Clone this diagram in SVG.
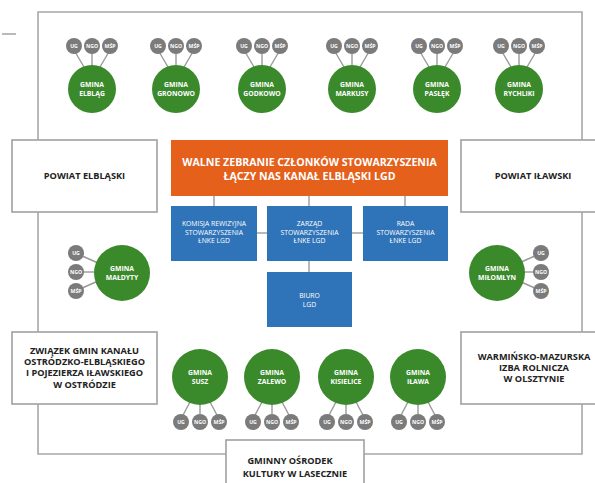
<svg xmlns="http://www.w3.org/2000/svg" width="595" height="483" viewBox="0 0 595 483">
<style>
.bg{fill:#ffffff}
.ln{stroke:#a8a8a8;stroke-width:1.6;fill:none}
.sl{stroke:#9a9a9a;stroke-width:1.4}
.box{fill:#ffffff;stroke:#a0a0a0;stroke-width:1.6}
.g{fill:#3a8a2c}
.s{fill:#7b7b7b}
.or{fill:#e4601b}
.bl{fill:#2f73b8}
.gt{font-family:"Open Sans","Liberation Sans",sans-serif;font-weight:700;font-size:6.8px;fill:#ffffff;text-anchor:middle}
.st{font-family:"Open Sans","Liberation Sans",sans-serif;font-weight:700;font-size:5.2px;fill:#ffffff;text-anchor:middle}
.bt{font-family:"Open Sans","Liberation Sans",sans-serif;font-weight:700;font-size:9.2px;fill:#222222;text-anchor:middle}
.ot{font-family:"Open Sans","Liberation Sans",sans-serif;font-weight:700;font-size:10.6px;fill:#ffffff;text-anchor:middle}
.wt{font-family:"Open Sans","Liberation Sans",sans-serif;font-weight:400;font-size:6.8px;fill:#ffffff;text-anchor:middle}
</style>
<rect class="bg" x="0" y="0" width="595" height="483"/>
<g id="connectors">
  <line class="ln" x1="2" y1="34" x2="16" y2="34"/>
  <path class="ln" d="M38,12 H582 V454 H38 Z"/>
  <line class="ln" x1="214" y1="196" x2="214" y2="206"/>
  <line class="ln" x1="309" y1="196" x2="309" y2="206"/>
  <line class="ln" x1="405" y1="196" x2="405" y2="206"/>
  <line class="ln" x1="257" y1="233" x2="267" y2="233"/>
  <line class="ln" x1="352" y1="233" x2="363" y2="233"/>
  <line class="ln" x1="309" y1="261" x2="309" y2="272"/>
  <g class="sl">
    <line x1="74" y1="50" x2="84" y2="67"/><line x1="92" y1="52" x2="92" y2="65"/><line x1="110" y1="50" x2="100" y2="67"/>
    <line x1="158" y1="50" x2="168" y2="67"/><line x1="176" y1="52" x2="176" y2="65"/><line x1="194" y1="50" x2="184" y2="67"/>
    <line x1="244" y1="50" x2="254" y2="67"/><line x1="262" y1="52" x2="262" y2="65"/><line x1="280" y1="50" x2="270" y2="67"/>
    <line x1="334" y1="50" x2="344" y2="67"/><line x1="352" y1="52" x2="352" y2="65"/><line x1="370" y1="50" x2="360" y2="67"/>
    <line x1="419" y1="50" x2="429" y2="67"/><line x1="437" y1="52" x2="437" y2="65"/><line x1="455" y1="50" x2="445" y2="67"/>
    <line x1="501" y1="50" x2="511" y2="67"/><line x1="519" y1="52" x2="519" y2="65"/><line x1="537" y1="50" x2="527" y2="67"/>
    <line x1="80" y1="255" x2="98" y2="263"/><line x1="83" y1="272" x2="94" y2="272"/><line x1="80" y1="289" x2="98" y2="281"/>
    <line x1="537" y1="255" x2="519" y2="263"/><line x1="534" y1="272" x2="523" y2="272"/><line x1="537" y1="289" x2="519" y2="281"/>
    <line x1="182" y1="417" x2="190" y2="402"/><line x1="200" y1="414" x2="200" y2="405"/><line x1="218" y1="417" x2="210" y2="402"/>
    <line x1="254" y1="417" x2="262" y2="402"/><line x1="272" y1="414" x2="272" y2="405"/><line x1="290" y1="417" x2="282" y2="402"/>
    <line x1="328" y1="417" x2="336" y2="402"/><line x1="346" y1="414" x2="346" y2="405"/><line x1="364" y1="417" x2="356" y2="402"/>
    <line x1="400" y1="417" x2="408" y2="402"/><line x1="418" y1="414" x2="418" y2="405"/><line x1="436" y1="417" x2="428" y2="402"/>
  </g>
</g>

<g id="powiat-elblaski"><rect class="box" x="12" y="140" width="145" height="72"/><text class="bt" x="84.5" y="179">POWIAT ELBLĄSKI</text></g>
<g id="powiat-ilawski"><rect class="box" x="461" y="140" width="140" height="72"/><text class="bt" x="533" y="179">POWIAT IŁAWSKI</text></g>
<g id="zwiazek"><rect class="box" x="12" y="332" width="145" height="72"/>
  <text class="bt" x="84.5" y="354">ZWIĄZEK GMIN KANAŁU</text>
  <text class="bt" x="84.5" y="365.2">OSTRÓDZKO-ELBLĄSKIEGO</text>
  <text class="bt" x="84.5" y="376.4">I POJEZIERZA IŁAWSKIEGO</text>
  <text class="bt" x="84.5" y="387.6">W OSTRÓDZIE</text></g>
<g id="izba"><rect class="box" x="461" y="332" width="140" height="72"/>
  <text class="bt" x="534" y="360">WARMIŃSKO-MAZURSKA</text>
  <text class="bt" x="534" y="371.2">IZBA ROLNICZA</text>
  <text class="bt" x="534" y="382.4">W OLSZTYNIE</text></g>
<g id="osrodek"><rect class="box" x="226" y="440" width="138" height="60"/>
  <text class="bt" x="290" y="464">GMINNY OŚRODEK</text>
  <text class="bt" x="295" y="477">KULTURY W LASECZNIE</text></g>

<g id="walne"><rect class="or" x="171" y="140" width="277" height="56"/>
  <text class="ot" x="309.5" y="166">WALNE ZEBRANIE CZŁONKÓW STOWARZYSZENIA</text>
  <text class="ot" x="309.5" y="180">ŁĄCZY NAS KANAŁ ELBLĄSKI LGD</text></g>
<g id="komisja"><rect class="bl" x="171" y="206" width="86" height="55"/>
  <text class="wt" x="214" y="226">KOMISJA REWIZYJNA</text><text class="wt" x="214" y="234.5">STOWARZYSZENIA</text><text class="wt" x="214" y="243">ŁNKE LGD</text></g>
<g id="zarzad"><rect class="bl" x="267" y="206" width="85" height="55"/>
  <text class="wt" x="309.5" y="226">ZARZĄD</text><text class="wt" x="309.5" y="234.5">STOWARZYSZENIA</text><text class="wt" x="309.5" y="243">ŁNKE LGD</text></g>
<g id="rada"><rect class="bl" x="363" y="206" width="85" height="55"/>
  <text class="wt" x="405.5" y="226">RADA</text><text class="wt" x="405.5" y="234.5">STOWARZYSZENIA</text><text class="wt" x="405.5" y="243">ŁNKE LGD</text></g>
<g id="biuro"><rect class="bl" x="267" y="272" width="85" height="55"/>
  <text class="wt" x="309.5" y="298">BIURO</text><text class="wt" x="309.5" y="307">LGD</text></g>

<g id="gmina-elblag"><circle class="g" cx="92" cy="89" r="24"/><text class="gt" x="92" y="87">GMINA</text><text class="gt" x="92" y="96">ELBLĄG</text>
  <circle class="s" cx="74" cy="46" r="8"/><text class="st" x="74" y="48">UG</text><circle class="s" cx="92" cy="46" r="8"/><text class="st" x="92" y="48">NGO</text><circle class="s" cx="110" cy="46" r="8"/><text class="st" x="110" y="48">MŚP</text></g>
<g id="gmina-gronowo"><circle class="g" cx="176" cy="89" r="24"/><text class="gt" x="176" y="87">GMINA</text><text class="gt" x="176" y="96">GRONOWO</text>
  <circle class="s" cx="158" cy="46" r="8"/><text class="st" x="158" y="48">UG</text><circle class="s" cx="176" cy="46" r="8"/><text class="st" x="176" y="48">NGO</text><circle class="s" cx="194" cy="46" r="8"/><text class="st" x="194" y="48">MŚP</text></g>
<g id="gmina-godkowo"><circle class="g" cx="262" cy="89" r="24"/><text class="gt" x="262" y="87">GMINA</text><text class="gt" x="262" y="96">GODKOWO</text>
  <circle class="s" cx="244" cy="46" r="8"/><text class="st" x="244" y="48">UG</text><circle class="s" cx="262" cy="46" r="8"/><text class="st" x="262" y="48">NGO</text><circle class="s" cx="280" cy="46" r="8"/><text class="st" x="280" y="48">MŚP</text></g>
<g id="gmina-markusy"><circle class="g" cx="352" cy="89" r="24"/><text class="gt" x="352" y="87">GMINA</text><text class="gt" x="352" y="96">MARKUSY</text>
  <circle class="s" cx="334" cy="46" r="8"/><text class="st" x="334" y="48">UG</text><circle class="s" cx="352" cy="46" r="8"/><text class="st" x="352" y="48">NGO</text><circle class="s" cx="370" cy="46" r="8"/><text class="st" x="370" y="48">MŚP</text></g>
<g id="gmina-paslek"><circle class="g" cx="437" cy="89" r="24"/><text class="gt" x="437" y="87">GMINA</text><text class="gt" x="437" y="96">PASŁĘK</text>
  <circle class="s" cx="419" cy="46" r="8"/><text class="st" x="419" y="48">UG</text><circle class="s" cx="437" cy="46" r="8"/><text class="st" x="437" y="48">NGO</text><circle class="s" cx="455" cy="46" r="8"/><text class="st" x="455" y="48">MŚP</text></g>
<g id="gmina-rychliki"><circle class="g" cx="519" cy="89" r="24"/><text class="gt" x="519" y="87">GMINA</text><text class="gt" x="519" y="96">RYCHLIKI</text>
  <circle class="s" cx="501" cy="46" r="8"/><text class="st" x="501" y="48">UG</text><circle class="s" cx="519" cy="46" r="8"/><text class="st" x="519" y="48">NGO</text><circle class="s" cx="537" cy="46" r="8"/><text class="st" x="537" y="48">MŚP</text></g>

<g id="gmina-maldyty"><circle class="g" cx="122" cy="273" r="28"/><text class="gt" x="122" y="271">GMINA</text><text class="gt" x="122" y="280">MAŁDYTY</text>
  <circle class="s" cx="76" cy="253" r="8"/><text class="st" x="76" y="255">UG</text><circle class="s" cx="76" cy="272" r="8"/><text class="st" x="76" y="274">NGO</text><circle class="s" cx="76" cy="291" r="8"/><text class="st" x="76" y="293">MŚP</text></g>
<g id="gmina-milomlyn"><circle class="g" cx="497" cy="273" r="28"/><text class="gt" x="497" y="271">GMINA</text><text class="gt" x="497" y="280">MIŁOMŁYN</text>
  <circle class="s" cx="541" cy="253" r="8"/><text class="st" x="541" y="255">UG</text><circle class="s" cx="541" cy="272" r="8"/><text class="st" x="541" y="274">NGO</text><circle class="s" cx="541" cy="291" r="8"/><text class="st" x="541" y="293">MŚP</text></g>

<g id="gmina-susz"><circle class="g" cx="200" cy="377" r="28"/><text class="gt" x="200" y="375">GMINA</text><text class="gt" x="200" y="384">SUSZ</text>
  <circle class="s" cx="181" cy="422" r="8"/><text class="st" x="181" y="424">UG</text><circle class="s" cx="200" cy="422" r="8"/><text class="st" x="200" y="424">NGO</text><circle class="s" cx="219" cy="422" r="8"/><text class="st" x="219" y="424">MŚP</text></g>
<g id="gmina-zalewo"><circle class="g" cx="272" cy="377" r="28"/><text class="gt" x="272" y="375">GMINA</text><text class="gt" x="272" y="384">ZALEWO</text>
  <circle class="s" cx="253" cy="422" r="8"/><text class="st" x="253" y="424">UG</text><circle class="s" cx="272" cy="422" r="8"/><text class="st" x="272" y="424">NGO</text><circle class="s" cx="291" cy="422" r="8"/><text class="st" x="291" y="424">MŚP</text></g>
<g id="gmina-kisielice"><circle class="g" cx="346" cy="377" r="28"/><text class="gt" x="346" y="375">GMINA</text><text class="gt" x="346" y="384">KISIELICE</text>
  <circle class="s" cx="327" cy="422" r="8"/><text class="st" x="327" y="424">UG</text><circle class="s" cx="346" cy="422" r="8"/><text class="st" x="346" y="424">NGO</text><circle class="s" cx="365" cy="422" r="8"/><text class="st" x="365" y="424">MŚP</text></g>
<g id="gmina-ilawa"><circle class="g" cx="418" cy="377" r="28"/><text class="gt" x="418" y="375">GMINA</text><text class="gt" x="418" y="384">IŁAWA</text>
  <circle class="s" cx="399" cy="422" r="8"/><text class="st" x="399" y="424">UG</text><circle class="s" cx="418" cy="422" r="8"/><text class="st" x="418" y="424">NGO</text><circle class="s" cx="437" cy="422" r="8"/><text class="st" x="437" y="424">MŚP</text></g>
</svg>
